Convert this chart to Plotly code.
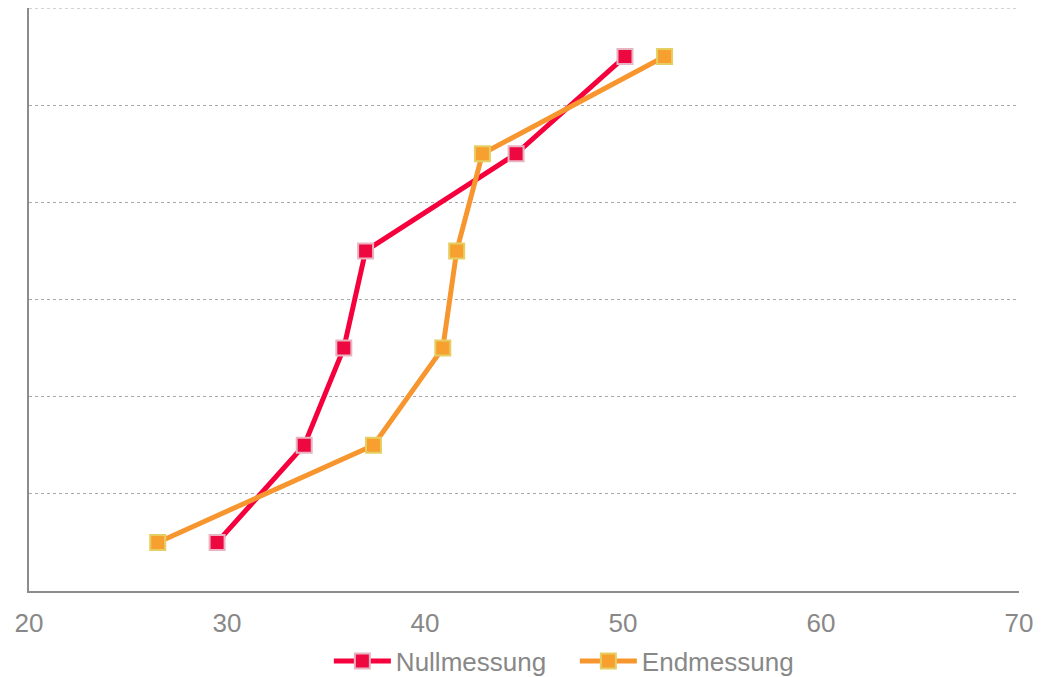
import plotly.graph_objects as go

categories = [0.5, 1.5, 2.5, 3.5, 4.5, 5.5]
null_values = [29.5, 33.9, 35.9, 37.0, 44.6, 50.1]
end_values = [26.5, 37.4, 40.9, 41.6, 42.9, 52.1]
x_ticks = [20, 30, 40, 50, 60, 70]

fig = go.Figure()
fig.add_trace(go.Scatter(
    x=null_values, y=categories, name="Nullmessung", mode="lines+markers",
    line=dict(color="#F5003C", width=5),
    marker=dict(symbol="square", size=15, color="#EE0840",
                line=dict(color="#E8B4C2", width=2)),
))
fig.add_trace(go.Scatter(
    x=end_values, y=categories, name="Endmessung", mode="lines+markers",
    line=dict(color="#F7962F", width=5),
    marker=dict(symbol="square", size=15, color="#F7A030",
                line=dict(color="#E6CF62", width=2)),
))

# top gridline (at the edge of the plot area)
fig.add_shape(type="line", xref="paper", yref="y", x0=0, x1=1, y0=6, y1=6,
              line=dict(color="#A8A8A8", width=1, dash="dot"), layer="below")

fig.update_layout(
    width=1049, height=677,
    margin=dict(l=29, r=30, t=8, b=86, autoexpand=False),
    paper_bgcolor="white", plot_bgcolor="white",
    font=dict(family="Liberation Sans, Arial, sans-serif", size=26, color="#888888"),
    xaxis=dict(range=[20, 70], tickvals=x_ticks, ticks="", showgrid=False,
               showline=True, linecolor="#8C8C8C", linewidth=1.5, zeroline=False,
               tickfont=dict(size=26, color="#888888"), ticklabelstandoff=8,
               automargin=False),
    yaxis=dict(range=[0, 6], dtick=1, showticklabels=False, ticks="",
               showgrid=True, gridcolor="#A8A8A8", griddash="dot", gridwidth=1,
               showline=True, linecolor="#8C8C8C", linewidth=1.5, zeroline=False,
               automargin=False),
    legend=dict(orientation="h", xref="container", x=0.548, xanchor="center",
                yref="container", y=1 - 661 / 677, yanchor="middle",
                font=dict(size=26, color="#888888"), itemwidth=57,
                entrywidth=174, tracegroupgap=0),
    showlegend=True,
)

fig.write_html("out.html")
